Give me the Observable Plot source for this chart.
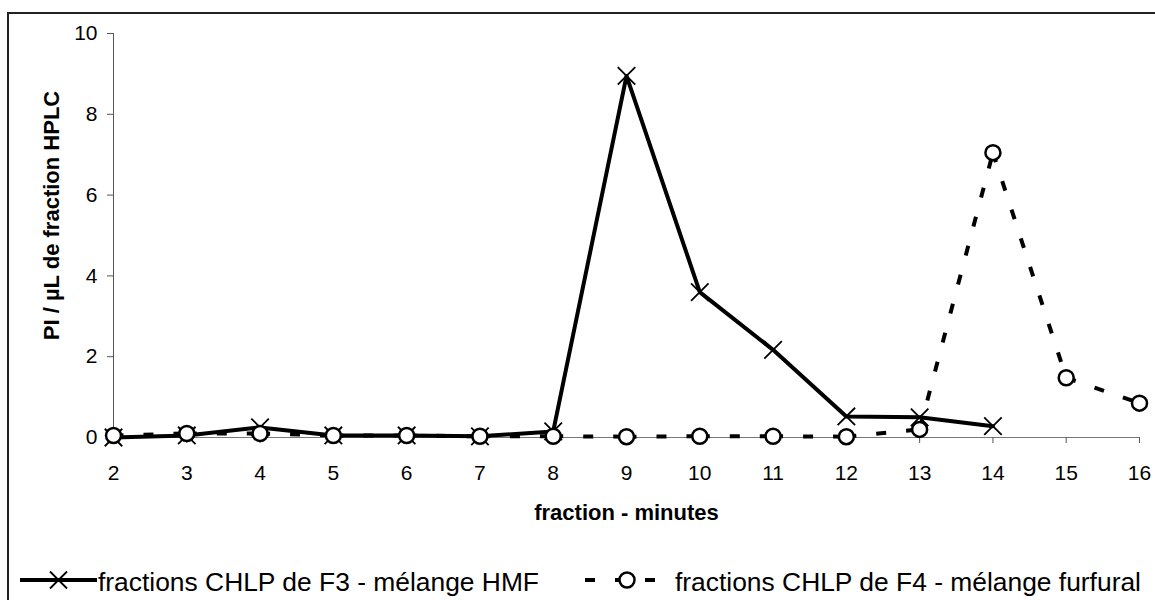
<!DOCTYPE html>
<html>
<head>
<meta charset="utf-8">
<script src="https://cdn.jsdelivr.net/npm/d3@7"></script>
<script src="https://cdn.jsdelivr.net/npm/@observablehq/plot@0.6"></script>
<style>
  html, body { margin: 0; padding: 0; background: #fff; }
  #wrap { position: relative; width: 1155px; height: 600px; overflow: hidden; font-family: "Liberation Sans", Arial, sans-serif; }
  #frame { position: absolute; left: 7px; top: 12px; width: 1170px; height: 620px; border-left: 2px solid #222; border-top: 2px solid #222; box-sizing: border-box; }
  #chart { position: absolute; left: 0; top: 0; }
  #legend { position: absolute; left: 0; top: 545px; width: 1155px; height: 55px; }
  #legend svg { position: absolute; left: 0; top: 0; }
  #legend span { position: absolute; font-size: 26.4px; line-height: 1; color: #000; white-space: nowrap; }
</style>
</head>
<body>
<div id="wrap">
  <div id="frame"></div>
  <div id="chart"></div>
  <div id="legend"></div>
</div>
<script>
const fractions = [2, 3, 4, 5, 6, 7, 8, 9, 10, 11, 12, 13, 14, 15, 16];
const hmfValues = [0.0, 0.05, 0.25, 0.05, 0.05, 0.03, 0.15, 8.95, 3.6, 2.17, 0.52, 0.5, 0.28, null, null];
const furfuralValues = [0.05, 0.1, 0.1, 0.05, 0.05, 0.03, 0.03, 0.02, 0.03, 0.03, 0.02, 0.2, 7.05, 1.48, 0.85];
const seriesNames = ["fractions CHLP de F3 - mélange HMF", "fractions CHLP de F4 - mélange furfural"];
const yTicks = [0, 2, 4, 6, 8, 10];
const xTicks = fractions;
const xLabel = "fraction - minutes";
const yLabel = "PI / µL de fraction HPLC";

const hmf = fractions.map((f, i) => ({x: f, y: hmfValues[i]})).filter(d => d.y != null);
const furf = fractions.map((f, i) => ({x: f, y: furfuralValues[i]})).filter(d => d.y != null);
// consecutive segments (Excel restarts the dash pattern at every data point)
const furfSegs = furf.slice(1).map((d, i) => ({x1: furf[i].x, y1: furf[i].y, x2: d.x, y2: d.y}));

const dash = "10,20";
const font = "'Liberation Sans', Arial, sans-serif";

const chart = Plot.plot({
  width: 1155,
  height: 545,
  marginLeft: 113,
  marginRight: 16,
  marginTop: 33,
  marginBottom: 108,
  style: {fontFamily: font, fontSize: "21px", color: "#000", background: "transparent", overflow: "visible"},
  x: {domain: [2, 16]},
  y: {domain: [0, 10]},
  marks: [
    Plot.ruleY([0], {stroke: "#777", strokeWidth: 1}),
    Plot.ruleX([2], {stroke: "#555", strokeWidth: 1}),
    Plot.axisY({ticks: yTicks, tickSize: 6, tickPadding: 10, stroke: "#555", strokeOpacity: 1, label: null, fontSize: 21, fill: "#000"}),
    Plot.axisX({ticks: xTicks, tickSize: 6, tickPadding: 22, stroke: "#555", strokeOpacity: 1, label: null, fontSize: 21, fill: "#000", tickFormat: d => String(d)}),
    Plot.text([xLabel], {frameAnchor: "bottom", lineAnchor: "middle", textAnchor: "middle", dy: 75, fontWeight: "bold", fontSize: 22, fill: "#000"}),
    Plot.text([yLabel], {frameAnchor: "left", lineAnchor: "middle", textAnchor: "middle", dx: -62, dy: -20, rotate: -90, fontWeight: "bold", fontSize: 22, fill: "#000"}),
    Plot.line(hmf, {x: "x", y: "y", stroke: "#000", strokeWidth: 4}),
    Plot.link(furfSegs, {x1: "x1", y1: "y1", x2: "x2", y2: "y2", stroke: "#000", strokeWidth: 4, strokeDasharray: dash}),
    Plot.dot(hmf, {x: "x", y: "y", symbol: "times", r: 8, stroke: "#000", strokeWidth: 1.8}),
    Plot.dot(furf, {x: "x", y: "y", symbol: "circle", r: 7.5, fill: "#fff", stroke: "#000", strokeWidth: 2.5})
  ]
});
document.getElementById("chart").appendChild(chart);

// Legend (below the chart SVG)
const legend = document.getElementById("legend");
const ns = "http://www.w3.org/2000/svg";
const sw = document.createElementNS(ns, "svg");
sw.setAttribute("width", 1155);
sw.setAttribute("height", 55);
function el(tag, attrs) {
  const e = document.createElementNS(ns, tag);
  for (const k in attrs) e.setAttribute(k, attrs[k]);
  sw.appendChild(e);
  return e;
}
const ly = 35; // legend row centre within the legend box
// solid swatch with X
el("line", {x1: 20, x2: 97, y1: ly, y2: ly, stroke: "#000", "stroke-width": 4});
el("path", {d: `M${58.5 - 8.5},${ly - 8.5} L${58.5 + 8.5},${ly + 8.5} M${58.5 + 8.5},${ly - 8.5} L${58.5 - 8.5},${ly + 8.5}`, stroke: "#000", "stroke-width": 1.8, fill: "none"});
// dashed swatch with circle
el("line", {x1: 585, x2: 668, y1: ly, y2: ly, stroke: "#000", "stroke-width": 4, "stroke-dasharray": dash});
el("circle", {cx: 627, cy: ly, r: 7.5, fill: "#fff", stroke: "#000", "stroke-width": 2.5});
legend.appendChild(sw);

const t1 = document.createElement("span");
t1.textContent = seriesNames[0];
t1.style.left = "98px";
t1.style.top = "24px";
legend.appendChild(t1);
const t2 = document.createElement("span");
t2.textContent = seriesNames[1];
t2.style.left = "675px";
t2.style.top = "24px";
legend.appendChild(t2);
</script>
</body>
</html>
